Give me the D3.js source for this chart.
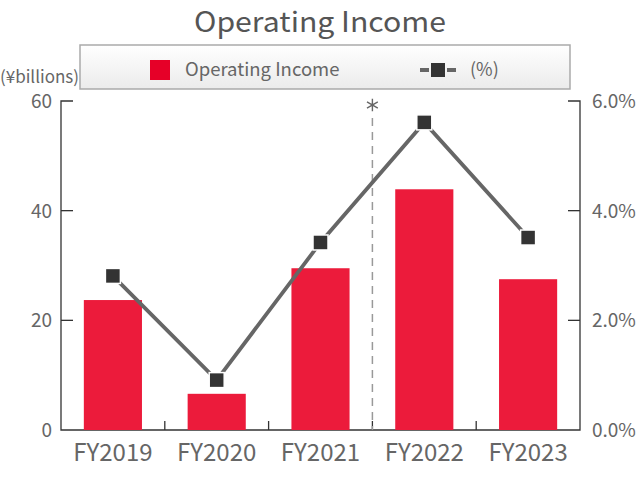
<!DOCTYPE html>
<html>
<head>
    <meta charset="UTF-8">
    <style>
        body { margin: 0; background: #fff; }
        text { font-family: "Noto Sans CJK JP", "Noto Sans", sans-serif; }
    </style>
</head>
<body>
    <svg></svg>
    <script src="https://d3js.org/d3.v7.min.js"></script>
    <script>
        // data
        const years = ["FY2019", "FY2020", "FY2021", "FY2022", "FY2023"];
        const income = [23.7, 6.6, 29.5, 43.9, 27.5];
        const margin = [2.81, 0.91, 3.42, 5.61, 3.51];
        const leftTicks = [0, 20, 40, 60];
        const rightTicks = [0, 2, 4, 6];

        let width = 640, height = 480;
        let svg = d3.select("svg")
            .attr("width", width)
            .attr("height", height);

        let x0 = 61, x1 = 580, yTop = 101, yBot = 430;

        let x = d3.scaleBand().domain(years).range([x0, x1]).paddingInner(0.44).paddingOuter(0.22);
        let band = d3.scaleBand().domain(years).range([x0, x1]);
        let y = d3.scaleLinear().domain([0, 60]).range([yBot, yTop]);
        let y2 = d3.scaleLinear().domain([0, 6]).range([yBot, yTop]);

        // title
        svg.append("text")
            .attr("x", 320).attr("y", 32)
            .attr("text-anchor", "middle")
            .attr("font-size", 28)
            .attr("textLength", 252)
            .attr("lengthAdjust", "spacingAndGlyphs")
            .attr("fill", "#555")
            .text("Operating Income");

        // legend box
        let grad = svg.append("defs").append("linearGradient")
            .attr("id", "lg").attr("x1", 0).attr("x2", 0).attr("y1", 0).attr("y2", 1);
        grad.append("stop").attr("offset", "0%").attr("stop-color", "#ffffff");
        grad.append("stop").attr("offset", "100%").attr("stop-color", "#ebebeb");

        svg.append("rect")
            .attr("x", 80).attr("y", 45).attr("width", 490).attr("height", 44)
            .attr("fill", "url(#lg)")
            .attr("stroke", "#aaa").attr("stroke-width", 1.5);

        svg.append("rect")
            .attr("x", 150).attr("y", 60).attr("width", 20).attr("height", 20)
            .attr("fill", "#e60028");
        svg.append("text")
            .attr("x", 185).attr("y", 76)
            .attr("font-size", 18.5).attr("fill", "#666")
            .text("Operating Income");

        svg.append("line")
            .attr("x1", 420).attr("x2", 456).attr("y1", 70).attr("y2", 70)
            .attr("stroke", "#666").attr("stroke-width", 4)
            .attr("stroke-dasharray", "9,3,12,3,9");
        svg.append("rect")
            .attr("x", 431).attr("y", 63).attr("width", 14).attr("height", 14)
            .attr("fill", "#333");
        svg.append("text")
            .attr("x", 470).attr("y", 76)
            .attr("font-size", 18).attr("fill", "#666")
            .text("(%)");

        // unit label
        svg.append("text")
            .attr("x", 0).attr("y", 83)
            .attr("font-size", 17).attr("fill", "#666")
            .text("(¥billions)");

        // axes
        let gAx = svg.append("g").attr("stroke", "#333").attr("stroke-width", 1.3).attr("fill", "none");
        gAx.append("path").attr("d", `M${x0 + 12},${yTop}H${x0}V${yBot}H${x1}V${yTop}H${x1 - 12}`);

        gAx.selectAll(".lt").data(leftTicks.slice(1, -1)).enter()
            .append("line")
            .attr("x1", x0).attr("x2", x0 + 12)
            .attr("y1", d => y(d)).attr("y2", d => y(d));
        gAx.selectAll(".rt").data(rightTicks.slice(1, -1)).enter()
            .append("line")
            .attr("x1", x1 - 12).attr("x2", x1)
            .attr("y1", d => y2(d)).attr("y2", d => y2(d));
        gAx.selectAll(".bt").data(years.slice(1)).enter()
            .append("line")
            .attr("x1", d => band(d)).attr("x2", d => band(d))
            .attr("y1", yBot).attr("y2", yBot - 9);

        svg.selectAll(".ll").data(leftTicks).enter()
            .append("text")
            .attr("x", 52).attr("y", d => y(d) + 7)
            .attr("text-anchor", "end")
            .attr("font-size", 19).attr("fill", "#666")
            .text(d => d);

        svg.selectAll(".rl").data(rightTicks).enter()
            .append("text")
            .attr("x", 592).attr("y", d => y2(d) + 7)
            .attr("font-size", 19).attr("fill", "#666")
            .text(d => d.toFixed(1) + "%");

        svg.selectAll(".xl").data(years).enter()
            .append("text")
            .attr("x", d => band(d) + band.bandwidth() / 2)
            .attr("y", 461)
            .attr("text-anchor", "middle")
            .attr("font-size", 24).attr("fill", "#666")
            .text(d => d);

        // bars
        svg.selectAll(".bar").data(years).enter()
            .append("rect")
            .attr("x", d => x(d))
            .attr("width", x.bandwidth())
            .attr("y", (d, i) => y(income[i]))
            .attr("height", (d, i) => yBot - y(income[i]))
            .attr("fill", "#ec1b3b");

        // dashed separator
        let sx = band("FY2022");
        svg.append("line")
            .attr("x1", sx).attr("x2", sx)
            .attr("y1", 118).attr("y2", yBot)
            .attr("stroke", "#999").attr("stroke-width", 1.5)
            .attr("stroke-dasharray", "8,6");
        svg.append("path")
            .attr("transform", `translate(${sx},105)`)
            .attr("d", d3.symbol(d3.symbolAsterisk, 110)())
            .attr("fill", "none")
            .attr("stroke", "#666")
            .attr("stroke-width", 1.4);

        // line
        let line = d3.line()
            .x((d, i) => band(years[i]) + band.bandwidth() / 2)
            .y(d => y2(d));
        svg.append("path")
            .datum(margin)
            .attr("d", line)
            .attr("fill", "none")
            .attr("stroke", "#666")
            .attr("stroke-width", 3.8);

        svg.selectAll(".mk").data(margin).enter()
            .append("rect")
            .attr("x", (d, i) => band(years[i]) + band.bandwidth() / 2 - 7.5)
            .attr("y", d => y2(d) - 7.5)
            .attr("width", 15).attr("height", 15)
            .attr("fill", "#333")
            .attr("stroke", "#fff").attr("stroke-width", 1.5);
    </script>
</body>
</html>
